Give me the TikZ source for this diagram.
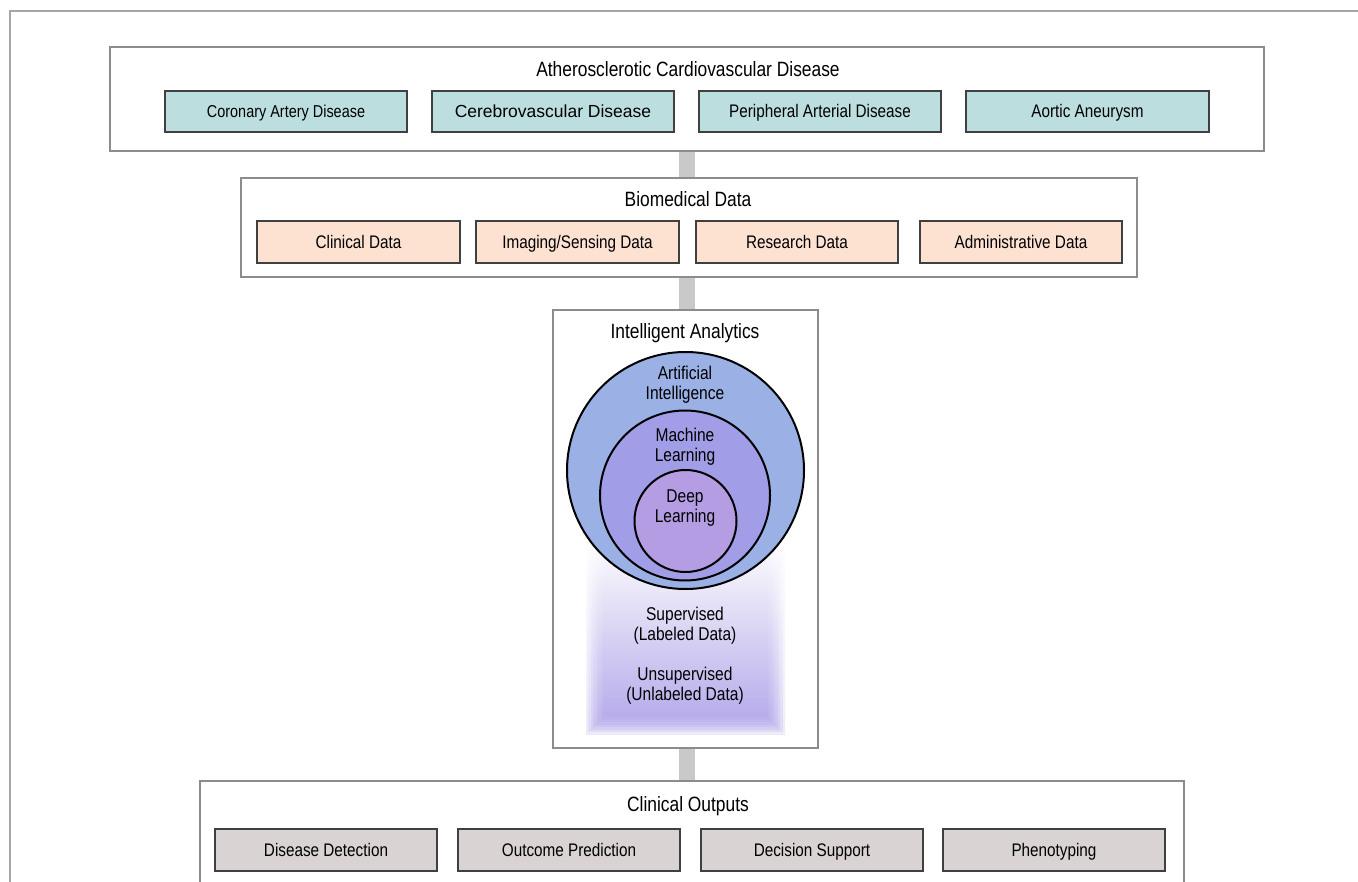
\documentclass[tikz,border=0pt]{standalone}
\usepackage{fontspec}
\setmainfont{Liberation Sans}
\newfontfamily\narrowfont{Liberation Sans}[FakeStretch=0.84]
\usetikzlibrary{positioning,fit,backgrounds}
\definecolor{framegray}{HTML}{8C8C8C}
\definecolor{bargray}{HTML}{C9C9C9}
\definecolor{edgegray}{HTML}{404040}
\definecolor{tealbox}{HTML}{BDDEDF}
\definecolor{peachbox}{HTML}{FDE2D2}
\definecolor{greybox}{HTML}{D9D3D3}
\definecolor{aiblue}{HTML}{9BB1E6}
\definecolor{mlviolet}{HTML}{A19DE6}
\definecolor{dlviolet}{HTML}{B59DE3}
\definecolor{fadeviolet}{HTML}{A99BE8}

\begin{document}
\begin{tikzpicture}[x=1pt, y=-1pt,
    frame/.style={rectangle, draw=framegray, line width=2pt, fill=white, inner sep=0pt},
    title/.style={font=\narrowfont\fontsize{20.7}{23}\selectfont, inner sep=0pt,
                  text height=14.8pt, text depth=0pt},
    item/.style={rectangle, draw=edgegray, line width=1.3pt, inner sep=0pt,
                minimum height=41pt, text height=13pt, text depth=0pt,
                font=\narrowfont\fontsize{18.2}{20}\selectfont},
    circ/.style={circle, draw=black, line width=2pt, inner sep=0pt},
    lbl/.style={align=center, inner sep=0pt, font=\narrowfont\fontsize{18.5}{20}\selectfont},
    bar/.style={draw=bargray, line width=16pt}
  ]
  \clip (0,0) rectangle (1358,882);
  \useasboundingbox (0,0) rectangle (1358,882);
  \draw[black!35, line width=1.5pt] (1360,11) -- (10,11) -- (10,884);

  % frames
  \node[frame, minimum width=1154pt, minimum height=104pt] (ascvd) at (687,99) {};
  \node[frame, minimum width=896pt, minimum height=99pt] (bio) at (689,227.5) {};
  \node[frame, minimum width=265pt, minimum height=438pt] (ia) at (685,529) {};
  \node[frame, minimum width=984pt, minimum height=140pt] (out) at (692,851) {};

  % links between the stages
  \begin{scope}[on background layer]
    \draw[bar] (687,151) -- (687,178);
    \draw[bar] (687,277) -- (687,310);
    \draw[bar] (687,748) -- (687,781);
  \end{scope}

  \node[title] (ascvdt) at (688,69) {Atherosclerotic Cardiovascular Disease};
  \node[item, fill=tealbox, minimum width=242pt, font=\narrowfont\fontsize{17.2}{20}\selectfont] (cad) at (286,111.5) {Coronary Artery Disease};
  \node[item, fill=tealbox, minimum width=242pt, font=\fontsize{17.5}{20}\selectfont] (cvd) at (553,111.5) {Cerebrovascular Disease};
  \node[item, fill=tealbox, minimum width=242pt] (pad) at (820,111.5) {Peripheral Arterial Disease};
  \node[item, fill=tealbox, minimum width=243pt] (aa) at (1087.5,111.5) {Aortic Aneurysm};

  \node[title] (biot) at (688,199) {Biomedical Data};
  \node[item, fill=peachbox, minimum width=203pt, minimum height=42pt] (clin) at (358.5,242) {Clinical Data};
  \node[item, fill=peachbox, minimum width=203pt, minimum height=42pt] (img) at (577.5,242) {Imaging/Sensing Data};
  \node[item, fill=peachbox, minimum width=202pt, minimum height=42pt] (res) at (797,242) {Research Data};
  \node[item, fill=peachbox, minimum width=202pt, minimum height=42pt] (adm) at (1021,242) {Administrative Data};

  \node[title] (iat) at (685,331) {Intelligent Analytics};

  % soft learning-type panel
  \foreach \k in {0,...,7}
    \shade[top color=white, bottom color=fadeviolet, opacity=0.2]
      (586+\k*2.5,540) rectangle (785-\k*2.5,734-\k*2.5);

  \node[circ, fill=aiblue, minimum size=237pt] (ai) at (685.5,470.5) {};
  \node[circ, fill=mlviolet, minimum size=170pt] (ml) at (685,495.5) {};
  \node[circ, fill=dlviolet, minimum size=102pt] (dl) at (685.5,521) {};
  \node[lbl] (ail) at (685,385) {Artificial\\Intelligence};
  \node[lbl] (mll) at (685,447) {Machine\\Learning};
  \node[lbl] (dll) at (685,508) {Deep\\Learning};

  \node[lbl] (sup) at (685,626) {Supervised\\(Labeled Data)};
  \node[lbl] (unsup) at (685,686) {Unsupervised\\(Unlabeled Data)};

  \node[title] (outt) at (688,804) {Clinical Outputs};
  \node[item, fill=greybox, minimum width=222pt, minimum height=42pt] (det) at (326,850) {Disease Detection};
  \node[item, fill=greybox, minimum width=222pt, minimum height=42pt] (pred) at (569,850) {Outcome Prediction};
  \node[item, fill=greybox, minimum width=222pt, minimum height=42pt] (dec) at (812,850) {Decision Support};
  \node[item, fill=greybox, minimum width=222pt, minimum height=42pt] (phen) at (1054,850) {Phenotyping};
\end{tikzpicture}
\end{document}
